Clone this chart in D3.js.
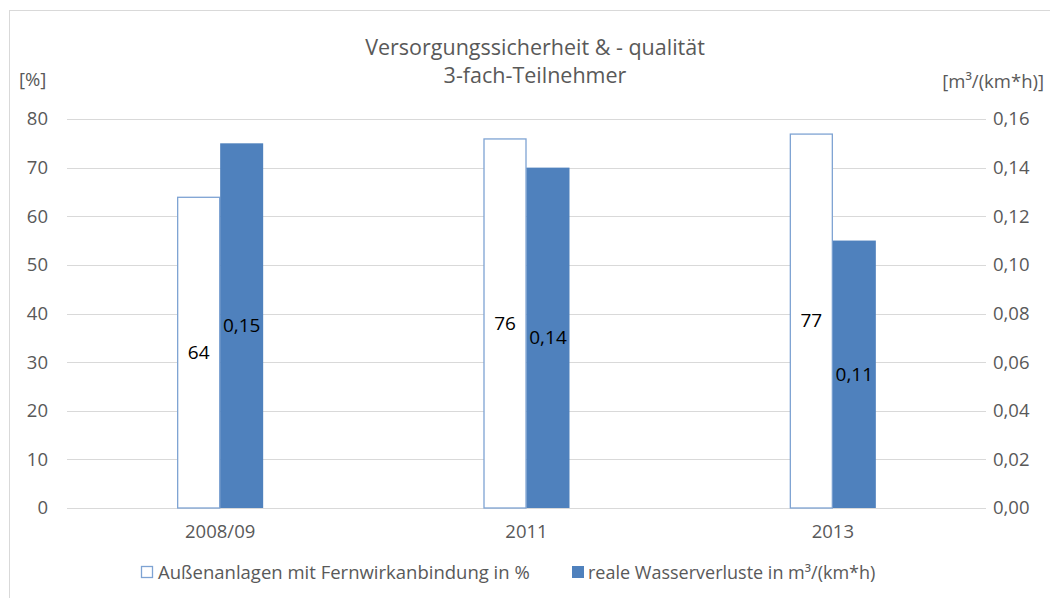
<!DOCTYPE html>
<html>
<head>
<meta charset="utf-8">
<script src="https://cdn.jsdelivr.net/npm/d3@7"></script>
<style>
  body { margin: 0; background: #fff; }
  text { font-family: "Open Sans", "Noto Sans", sans-serif; }
</style>
</head>
<body>
<svg id="canvas"></svg>
<script>
var width = 1050,
	height = 598;

// data
var years = ["2008/09", "2011", "2013"];
var anteil = [64, 76, 77];           // Außenanlagen mit Fernwirkanbindung in %
var verluste = [0.15, 0.14, 0.11];   // reale Wasserverluste in m³/(km*h)
var leftTicks = [0, 10, 20, 30, 40, 50, 60, 70, 80];
var rightTicks = [0, 0.02, 0.04, 0.06, 0.08, 0.10, 0.12, 0.14, 0.16];
var titleLines = ["Versorgungssicherheit & - qualität", "3-fach-Teilnehmer"];
var legendLabels = ["Außenanlagen mit Fernwirkanbindung in %", "reale Wasserverluste in m³/(km*h)"];

var blue = "#4f81bd",
	outline = "#7ea3d3",
	grid = "#d9d9d9",
	textCol = "#595959";

var svg = d3.select("#canvas")
		.attr("width", width)
		.attr("height", height);

// chart frame
svg.append("rect")
	.attr("x", 9.5).attr("y", 10.5)
	.attr("width", 1060).attr("height", 620)
	.attr("fill", "none")
	.attr("stroke", grid);

var plotL = 67, plotR = 986, plotT = 119, plotB = 508;

var x = d3.scaleBand()
	.domain(years)
	.range([plotL, plotR]);

var yL = d3.scaleLinear().domain([0, 80]).range([plotB, plotT]);
var yR = d3.scaleLinear().domain([0, 0.16]).range([plotB, plotT]);

var barW = 43;
var fmt = function(v){ return d3.format(".2f")(v).replace(".", ","); };

// gridlines
svg.append("g")
	.selectAll("line")
	.data(leftTicks)
	.enter()
	.append("line")
	.attr("x1", plotL).attr("x2", plotR)
	.attr("y1", function(d){ return Math.round(yL(d)) + 0.5; })
	.attr("y2", function(d){ return Math.round(yL(d)) + 0.5; })
	.attr("stroke", grid)
	.attr("stroke-width", 1.2);

function styleAxis(g){
	g.select(".domain").remove();
	g.selectAll("text")
		.attr("fill", textCol)
		.style("font-size", "18.5px")
		.style("font-family", "'Open Sans', sans-serif");
}

// left axis
svg.append("g")
	.attr("transform", "translate(" + plotL + ",0)")
	.call(d3.axisLeft(yL).tickValues(leftTicks).tickSize(0).tickPadding(19))
	.call(styleAxis);

// right axis
svg.append("g")
	.attr("transform", "translate(" + plotR + ",0)")
	.call(d3.axisRight(yR).tickValues(rightTicks).tickSize(0).tickPadding(7).tickFormat(fmt))
	.call(styleAxis);

// x axis labels
svg.append("g")
	.attr("transform", "translate(0," + plotB + ")")
	.call(d3.axisBottom(x).tickSize(0).tickPadding(17))
	.call(styleAxis);

// bars
var center = function(d){ return x(d) + x.bandwidth() / 2; };

svg.append("g")
	.selectAll("rect")
	.data(years)
	.enter()
	.append("rect")
	.attr("x", function(d){ return center(d) - barW + 0.5; })
	.attr("y", function(d, i){ return yL(anteil[i]) + 0.5; })
	.attr("width", barW - 1)
	.attr("height", function(d, i){ return plotB - yL(anteil[i]) - 0.5; })
	.attr("fill", "#fff")
	.attr("stroke", outline)
	.attr("stroke-width", 1.3);

svg.append("g")
	.selectAll("rect")
	.data(years)
	.enter()
	.append("rect")
	.attr("x", function(d){ return center(d); })
	.attr("y", function(d, i){ return yR(verluste[i]); })
	.attr("width", barW)
	.attr("height", function(d, i){ return plotB - yR(verluste[i]); })
	.attr("fill", blue);

// data labels (centered in bars)
svg.append("g")
	.selectAll("text")
	.data(years)
	.enter()
	.append("text")
	.attr("x", function(d){ return center(d) - barW / 2; })
	.attr("y", function(d, i){ return (yL(anteil[i]) + plotB) / 2; })
	.attr("dy", "0.35em")
	.attr("text-anchor", "middle")
	.style("font-size", "19px")
	.attr("fill", "#000")
	.text(function(d, i){ return anteil[i]; });

svg.append("g")
	.selectAll("text")
	.data(years)
	.enter()
	.append("text")
	.attr("x", function(d){ return center(d) + barW / 2; })
	.attr("y", function(d, i){ return (yR(verluste[i]) + plotB) / 2; })
	.attr("dy", "0.35em")
	.attr("text-anchor", "middle")
	.style("font-size", "19px")
	.attr("fill", "#000")
	.text(function(d, i){ return fmt(verluste[i]); });

// title
svg.append("g")
	.selectAll("text")
	.data(titleLines)
	.enter()
	.append("text")
	.attr("x", 535)
	.attr("y", function(d, i){ return 55 + i * 28; })
	.attr("text-anchor", "middle")
	.attr("fill", textCol)
	.style("font-size", "21.5px")
	.text(function(d){ return d; });

// unit labels
svg.append("text")
	.attr("x", 19).attr("y", 86)
	.attr("fill", textCol)
	.style("font-size", "18.5px")
	.text("[%]");

svg.append("text")
	.attr("x", 1044).attr("y", 88)
	.attr("text-anchor", "end")
	.attr("fill", textCol)
	.style("font-size", "18.5px")
	.text("[m³/(km*h)]");

// legend
var leg = svg.append("g");
leg.append("rect")
	.attr("x", 141.5).attr("y", 566.5)
	.attr("width", 11).attr("height", 11)
	.attr("fill", "#fff")
	.attr("stroke", outline)
	.attr("stroke-width", 1.3);
leg.append("text")
	.attr("x", 158).attr("y", 579)
	.attr("fill", textCol)
	.style("font-size", "18.5px")
	.text(legendLabels[0]);
leg.append("rect")
	.attr("x", 572).attr("y", 566)
	.attr("width", 12).attr("height", 12)
	.attr("fill", blue);
leg.append("text")
	.attr("x", 588).attr("y", 579)
	.attr("fill", textCol)
	.style("font-size", "18px")
	.text(legendLabels[1]);
</script>
</body>
</html>
